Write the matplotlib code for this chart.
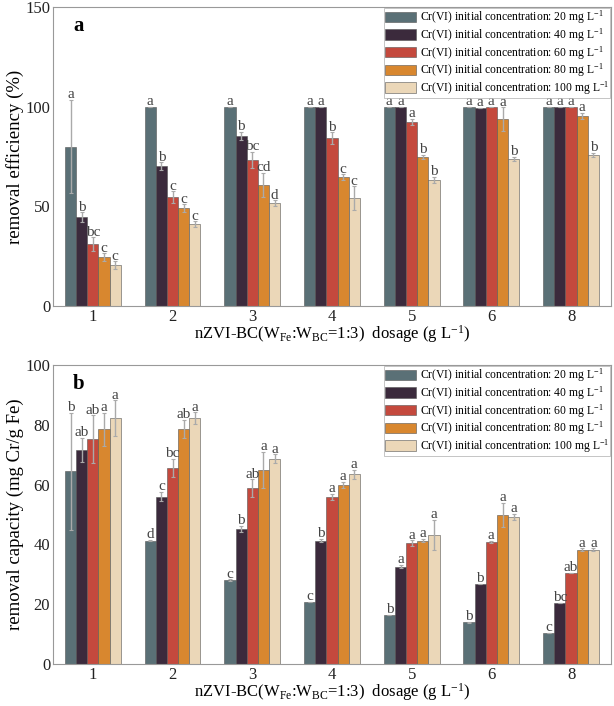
import matplotlib
matplotlib.use('Agg')
import matplotlib.pyplot as plt
import numpy as np

plt.rcParams['font.family'] = 'Liberation Serif'
plt.rcParams['mathtext.fontset'] = 'custom'
plt.rcParams['mathtext.rm'] = 'Liberation Serif'
plt.rcParams['mathtext.it'] = 'Liberation Serif:italic'

# %%
# data

dosages = ['1', '2', '3', '4', '5', '6', '8']
concs = ['20', '40', '60', '80', '100']
colors = ['#5a7076', '#3b2a3c', '#c4493d', '#d8872f', '#ebd7b8']

eff = [
    [80.0, 100, 100, 100, 100, 100, 100],
    [44.5, 70.0, 85.3, 100, 100, 99.5, 100],
    [31.0, 54.5, 73.2, 84.1, 92.5, 100, 100],
    [24.4, 49.0, 60.9, 64.5, 75.0, 93.6, 95.3],
    [20.4, 41.0, 51.5, 54.0, 63.2, 74.0, 76.0],
]
eff_err = [
    [23.5, 0, 0, 0, 0, 0, 0],
    [2.5, 2.0, 2.0, 0, 0, 0, 0],
    [3.5, 3.0, 4.0, 3.0, 1.5, 0, 0],
    [2.0, 2.0, 6.0, 1.5, 1.0, 6.0, 1.5],
    [2.0, 1.5, 1.5, 6.0, 1.5, 1.0, 1.0],
]
eff_letters = [
    ['a', 'a', 'a', 'a', 'a', 'a', 'a'],
    ['b', 'b', 'b', 'a', 'a', 'a', 'a'],
    ['bc', 'c', 'bc', 'b', 'a', 'a', 'a'],
    ['c', 'c', 'cd', 'c', 'b', 'a', 'a'],
    ['c', 'c', 'd', 'c', 'b', 'b', 'b'],
]

cap = [
    [64.4, 41.3, 28.0, 20.9, 16.5, 13.9, 10.4],
    [71.6, 56.0, 45.3, 41.3, 32.6, 26.8, 20.4],
    [75.2, 65.6, 58.8, 55.8, 40.4, 40.8, 30.6],
    [78.5, 78.7, 65.0, 59.9, 41.3, 49.9, 38.2],
    [82.2, 82.2, 68.6, 63.5, 43.2, 49.3, 38.2],
]
cap_err = [
    [19.5, 0.3, 0.3, 0, 0, 0.2, 0],
    [4.0, 1.5, 1.0, 0.5, 0.5, 0, 0],
    [8.0, 3.0, 3.0, 1.0, 1.0, 0.5, 0],
    [5.5, 3.0, 6.0, 1.0, 0.5, 4.0, 0.5],
    [6.0, 2.0, 1.5, 1.5, 5.0, 1.0, 0.5],
]
cap_letters = [
    ['b', 'd', 'c', 'c', 'b', 'b', 'c'],
    ['ab', 'c', 'b', 'b', 'a', 'b', 'bc'],
    ['ab', 'bc', 'ab', 'a', 'a', 'a', 'ab'],
    ['a', 'ab', 'a', 'a', 'a', 'a', 'a'],
    ['a', 'a', 'a', 'a', 'a', 'a', 'a'],
]

# %%

fig = plt.figure(figsize=(6.14, 7.06), dpi=100)
ax1 = fig.add_axes([0.0863, 0.5666, 0.9087, 0.4234])
ax2 = fig.add_axes([0.0863, 0.0595, 0.9087, 0.4235])

x = np.arange(len(dosages))
width = 0.14
xlabel = r'nZVI-BC(W$_{\rm Fe}$:W$_{\rm BC}$=1:3)  dosage (g L$^{-1}$)'


def draw(ax, vals, errs, letters, ymax, yticks, ylabel, tag):
    for i in range(len(concs)):
        pos = x + (i - 2) * width
        ax.bar(pos, vals[i], width, color=colors[i], edgecolor='#555555',
               linewidth=0.4, zorder=2,
               label='Cr(VI) initial concentration: %s mg L$^{-1}$' % concs[i])
        ax.errorbar(pos, vals[i], yerr=errs[i], fmt='none', ecolor='#aaaaaa',
                    elinewidth=1, capsize=1.5, capthick=0.8, zorder=3)
        for p, v, e, t in zip(pos, vals[i], errs[i], letters[i]):
            ax.annotate(t, (p, v + e), xytext=(0, 1.2),
                        textcoords='offset points', ha='center',
                        va='baseline', fontsize=11, color='#444444')
    ax.set_xlim(-0.5, 6.5)
    ax.set_ylim(0, ymax)
    ax.set_yticks(yticks)
    ax.set_xticks(x)
    ax.set_xticklabels(dosages)
    ax.tick_params(length=0, labelsize=12, colors='#222222', pad=2)
    for s in ax.spines.values():
        s.set_color('#999999')
        s.set_linewidth(0.8)
    ax.set_ylabel(ylabel, fontsize=13.5, labelpad=1)
    ax.text(0.045, 0.935, tag, transform=ax.transAxes, fontsize=15,
            fontweight='bold', va='center', ha='center')
    leg = ax.legend(loc='upper right', fontsize=8.4, frameon=True,
                    fancybox=False, borderaxespad=0.05, handlelength=2.7,
                    handleheight=1.0, handletextpad=0.3, labelspacing=0.0,
                    borderpad=0.1)
    leg.get_frame().set_edgecolor('#aaaaaa')
    leg.get_frame().set_linewidth(0.6)


draw(ax1, eff, eff_err, eff_letters, 150, [0, 50, 100, 150],
     'removal efficiency (%)', 'a')
ax1.set_xlabel(xlabel, fontsize=12, labelpad=-1)

draw(ax2, cap, cap_err, cap_letters, 100, [0, 20, 40, 60, 80, 100],
     'removal capacity (mg Cr/g Fe)', 'b')
ax2.set_xlabel(xlabel, fontsize=12, labelpad=-1)

fig.savefig('out.png', dpi=100)
